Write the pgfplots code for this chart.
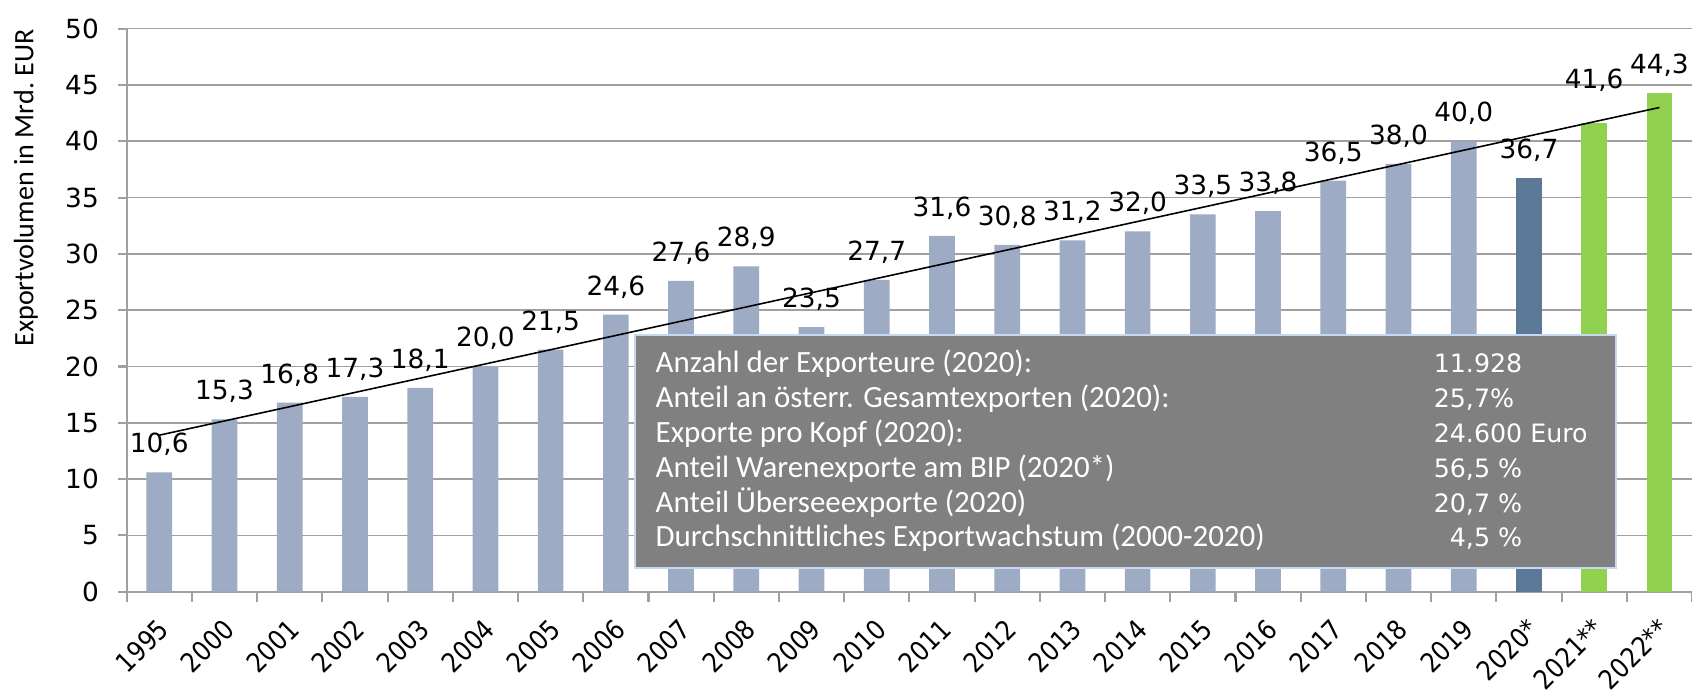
\documentclass[border=0pt]{standalone}
\usepackage{fontspec}
\setmainfont{DejaVu Sans}
\newfontfamily\carl{Carlito}
\newfontfamily\narrow{DejaVu Sans}[FakeStretch=0.88]
\usepackage{pgfplots}
\pgfplotsset{compat=1.18}

\definecolor{barlight}{HTML}{9DABC5}
\definecolor{bardark}{HTML}{5B7896}
\definecolor{bargreen}{HTML}{92D050}
\definecolor{gridgray}{HTML}{A0A0A0}
\definecolor{boxgray}{HTML}{808080}
\definecolor{boxedge}{HTML}{C6D9F1}

\pgfplotsset{
  vlabel/.style={
    nodes near coords={\pgfmathprintnumber[fixed,fixed zerofill,precision=1,use comma]{\pgfplotspointmeta}},
    every node near coord/.append style={font=\fontsize{7.5}{8}\selectfont,
      anchor=base, yshift=#1, text=black}},
  vlabel/.default=1.95mm,
}
\tikzset{
  infotext/.style={anchor=base west, inner sep=0pt, text=white,
    font=\carl\fontsize{8.8}{10}\selectfont},
  infonum/.style={anchor=base west, inner sep=0pt, text=white,
    font=\fontsize{7.2}{9}\selectfont},
}

\begin{document}
\begin{tikzpicture}
\begin{axis}[
  scale only axis, width=156.53mm, height=56.3mm,
  xmin=-0.5, xmax=23.5, ymin=0, ymax=50,
  ybar, bar width=2.57mm,
  axis lines*=left,
  axis line style={draw=gridgray, line width=0.6pt},
  ytick={0,5,...,50},
  xtick={0,...,23},
  xticklabels={1995,2000,2001,2002,2003,2004,2005,2006,2007,2008,2009,2010,
    2011,2012,2013,2014,2015,2016,2017,2018,2019,2020*,2021**,2022**},
  minor xtick={-0.5,0.5,...,23.5},
  tick align=outside,
  tick style={draw=gridgray, line width=0.6pt},
  major tick length=0.85mm, minor tick length=1mm,
  major x tick style={draw=none},
  ymajorgrids, grid style={draw=gridgray, line width=0.45pt},
  y tick label style={font=\fontsize{7.5}{8}\selectfont, xshift=-0.7mm},
  x tick label style={font=\narrow\fontsize{7.7}{8}\selectfont, xshift=-0.3mm, yshift=-1.6mm,
    rotate=45, anchor=north east, inner sep=0pt},
  /pgf/number format/assume math mode=true,
  clip=false,
]
\coordinate (o) at (rel axis cs:0,0);

\addplot[fill=barlight, draw=none, bar shift=0pt, vlabel] coordinates {
  (0,10.6) (1,15.3) (2,16.8) (3,17.3) (4,18.1) (5,20.0) (6,21.5) (7,24.6)
  (8,27.6) (9,28.9) (10,23.5) (11,27.7) (12,31.6) (13,30.8) (14,31.2)
  (15,32.0) (16,33.5) (17,33.8) (18,36.5) (19,38.0) (20,40.0)};
\addplot[fill=bardark, draw=none, bar shift=0pt, vlabel] coordinates {(21,36.7)};
\addplot[fill=bargreen, draw=none, bar shift=0pt, vlabel=3.5mm] coordinates {(22,41.6)};
\addplot[fill=bargreen, draw=none, bar shift=0pt, vlabel] coordinates {(23,44.3)};

% linear trend
\addplot[sharp plot, no marks, black, line width=0.45pt] coordinates {(0,13.9) (23,43.0)};

\draw[fill=boxgray, draw=boxedge, line width=0.5pt]
  (axis cs:7.294,2.10) rectangle (axis cs:22.335,22.80);
\node[infotext] at (axis cs:7.60,19.43) {Anzahl der Exporteure (2020):};
\node[infotext] at (axis cs:7.60,16.34) {Anteil an österr. Gesamtexporten (2020):};
\node[infotext] at (axis cs:7.60,13.25) {Exporte pro Kopf (2020):};
\node[infotext] at (axis cs:7.60,10.16) {Anteil Warenexporte am BIP (2020*)};
\node[infotext] at (axis cs:7.60,7.07) {Anteil Überseeexporte (2020)};
\node[infotext] at (axis cs:7.60,4.00) {Durchschnittliches Exportwachstum (2000-2020)};
\node[infonum] at (axis cs:19.53,19.43) {11.928};
\node[infonum] at (axis cs:19.53,16.34) {25,7\%};
\node[infonum] at (axis cs:19.53,13.25) {24.600 Euro};
\node[infonum] at (axis cs:19.53,10.16) {56,5 \%};
\node[infonum] at (axis cs:19.53,7.07) {20,7 \%};
\node[infonum] at (axis cs:19.53,4.00) {\hphantom{0}4,5 \%};

\node[rotate=90, anchor=base east, inner sep=0pt, font=\carl\fontsize{8}{9}\selectfont]
  at ([xshift=-9.34mm]rel axis cs:0,1) {Exportvolumen in Mrd.\ EUR};
\end{axis}
\pgfresetboundingbox
\path[use as bounding box] ([xshift=-12.67mm,yshift=-9.93mm]o) rectangle ++(169.2mm,69.1mm);
\end{tikzpicture}
\end{document}
